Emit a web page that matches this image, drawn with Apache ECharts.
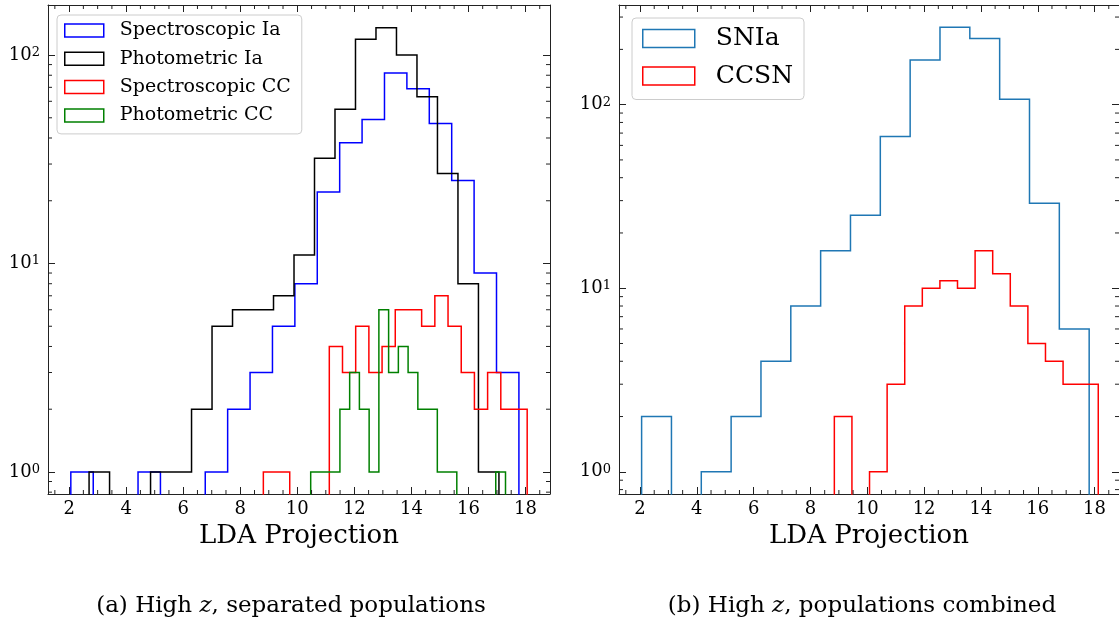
<!DOCTYPE html>
<html>
<head>
<meta charset="utf-8">
<title>LDA projection histograms, high z</title>
<script src="https://cdn.jsdelivr.net/npm/echarts@6/dist/echarts.min.js"></script>
<style>
  html, body { margin: 0; padding: 0; background: #fff; }
  #chart { width: 1119px; height: 627px; }
</style>
</head>
<body>
<div id="chart"></div>
<script>
// (a) separated populations: [first bin edge, last bin edge] and counts per bin
const specIaRange = [2.06, 17.77];
const specIaCounts = [1, 0, 0, 1, 0, 0, 1, 2, 3, 5, 8, 22, 38, 49, 82, 69, 47, 25, 9, 3];
const photIaRange = [2.70, 17.07];
const photIaCounts = [1, 0, 0, 1, 1, 2, 5, 6, 6, 7, 11, 32, 55, 119, 135, 100, 63, 27, 8, 1];
const specCCRange = [8.81, 18.06];
const specCCCounts = [1, 1, 0, 0, 0, 4, 3, 5, 3, 4, 6, 6, 5, 7, 5, 3, 2, 3, 2, 2];
const photCCRange = [10.47, 17.30];
const photCCCounts = [1, 1, 1, 2, 3, 2, 1, 6, 3, 4, 3, 2, 2, 1, 1, 0, 0, 0, 0, 1];

// (b) populations combined
const snIaRange = [2.056, 17.81];
const snIaCounts = [2, 0, 1, 2, 4, 8, 16, 25, 67, 175, 264, 229, 107, 29, 6];
const ccsnRange = [8.84, 18.13];
const ccsnCounts = [2, 0, 1, 3, 8, 10, 11, 10, 16, 12, 8, 5, 4, 3, 3];

// axes
const xRange = [1.26, 18.86];
const yRangeA = [0.784, 173.8];
const yRangeB = [0.757, 349];
const xMajorTicks = [2, 4, 6, 8, 10, 12, 14, 16, 18];
const xMinorTicks = [1.5, 2.5, 3, 3.5, 4.5, 5, 5.5, 6.5, 7, 7.5, 8.5, 9, 9.5, 10.5, 11, 11.5,
                     12.5, 13, 13.5, 14.5, 15, 15.5, 16.5, 17, 17.5, 18.5];
const yMinorTicksA = [0.8, 0.9, 2, 3, 4, 5, 6, 7, 8, 9, 20, 30, 40, 50, 60, 70, 80, 90];
const yMinorTicksB = [0.8, 0.9, 2, 3, 4, 5, 6, 7, 8, 9, 20, 30, 40, 50, 60, 70, 80, 90, 200, 300];

const SERIF = 'DejaVu Serif';
const AXIS_COLOR = '#222';
const FLOOR = 0.01; // empty bins drop below the log axis

// outline of a step histogram
function stepLine(range, counts) {
    const w = (range[1] - range[0]) / counts.length;
    const pts = [[range[0], FLOOR]];
    counts.forEach((c, i) => {
        const y = c > 0 ? c : FLOOR;
        pts.push([range[0] + i * w, y], [range[0] + (i + 1) * w, y]);
    });
    pts.push([range[1], FLOOR]);
    return pts;
}

function histSeries(name, color, range, counts, gi) {
    return {
        name: name,
        type: 'line',
        xAxisIndex: gi * 2,
        yAxisIndex: gi * 2,
        data: stepLine(range, counts),
        symbol: 'none',
        showSymbol: false,
        clip: true,
        lineStyle: { color: color, width: 1.5, join: 'miter' },
        itemStyle: { color: color },
        emphasis: { disabled: true },
        animation: false
    };
}

// minor ticks on all four sides
function minorTickSeries(gi, xs, ys) {
    const data = xs.map(v => [v, 1, 0]).concat(ys.map(v => [10, v, 1]));
    return {
        type: 'custom',
        xAxisIndex: gi * 2,
        yAxisIndex: gi * 2,
        silent: true,
        clip: false,
        z: 10,
        animation: false,
        data: data,
        renderItem: function (params, api) {
            const cs = params.coordSys;
            const p = api.coord([api.value(0), api.value(1)]);
            const st = { stroke: AXIS_COLOR, lineWidth: 1 };
            const len = 4;
            if (api.value(2) === 0) {
                const b = cs.y + cs.height, t = cs.y;
                return { type: 'group', children: [
                    { type: 'line', shape: { x1: p[0], y1: b, x2: p[0], y2: b - len }, style: st },
                    { type: 'line', shape: { x1: p[0], y1: t, x2: p[0], y2: t + len }, style: st }
                ] };
            }
            const l = cs.x, r = cs.x + cs.width;
            return { type: 'group', children: [
                { type: 'line', shape: { x1: l, y1: p[1], x2: l + len, y2: p[1] }, style: st },
                { type: 'line', shape: { x1: r, y1: p[1], x2: r - len, y2: p[1] }, style: st }
            ] };
        }
    };
}

const axisLine = { show: true, onZero: false, lineStyle: { color: AXIS_COLOR, width: 1 } };
const majorTick = { show: true, inside: true, length: 7, lineStyle: { color: AXIS_COLOR, width: 1 } };

function xAxes(gi) {
    return [
        {
            type: 'value', gridIndex: gi, position: 'bottom',
            min: xRange[0], max: xRange[1],
            name: 'LDA Projection', nameLocation: 'middle', nameGap: 29,
            nameTextStyle: { fontFamily: SERIF, fontSize: 26, color: '#000' },
            axisLine: axisLine,
            axisTick: Object.assign({ customValues: xMajorTicks }, majorTick),
            axisLabel: { customValues: xMajorTicks, fontFamily: SERIF, fontSize: 18, color: '#000', margin: 6 },
            splitLine: { show: false }
        },
        {
            type: 'value', gridIndex: gi, position: 'top',
            min: xRange[0], max: xRange[1],
            axisLine: axisLine,
            axisTick: Object.assign({ customValues: xMajorTicks }, majorTick),
            axisLabel: { show: false },
            splitLine: { show: false }
        }
    ];
}

function powLabel(v) {
    const e = Math.log10(v);
    if (Math.abs(e - Math.round(e)) > 1e-6) return '';
    return '10{s|' + Math.round(e) + '}';
}

function yAxes(gi, range) {
    return [
        {
            type: 'log', gridIndex: gi, position: 'left', logBase: 10,
            min: range[0], max: range[1],
            axisLine: axisLine,
            axisTick: majorTick,
            axisLabel: {
                formatter: powLabel, showMinLabel: false, showMaxLabel: false,
                fontFamily: SERIF, fontSize: 18, color: '#000', margin: 8,
                rich: { s: { fontFamily: SERIF, fontSize: 13, color: '#000', verticalAlign: 'top' } }
            },
            splitLine: { show: false }
        },
        {
            type: 'log', gridIndex: gi, position: 'right', logBase: 10,
            min: range[0], max: range[1],
            axisLine: axisLine,
            axisTick: majorTick,
            axisLabel: { show: false },
            splitLine: { show: false }
        }
    ];
}

function legendItem(name, color, bw) {
    return { name: name, icon: 'rect',
             itemStyle: { color: 'rgba(0,0,0,0)', borderColor: color, borderWidth: bw } };
}

const legendFrame = {
    orient: 'vertical',
    backgroundColor: 'rgba(255,255,255,0.8)',
    borderColor: '#cccccc',
    borderWidth: 1,
    borderRadius: 4,
    selectedMode: false
};

const chart = echarts.init(document.getElementById('chart'));

const option = {
    animation: false,
    grid: [
        { left: 48, top: 5, width: 502, height: 489 },
        { left: 619, top: 5, width: 502, height: 489 }
    ],
    xAxis: xAxes(0).concat(xAxes(1)),
    yAxis: yAxes(0, yRangeA).concat(yAxes(1, yRangeB)),
    legend: [
        Object.assign({
            left: 57, top: 15,
            padding: [6, 11, 9, 7],
            itemWidth: 39, itemHeight: 13, itemGap: 9.3,
            textStyle: { fontFamily: SERIF, fontSize: 19, color: '#000', padding: [0, 0, 0, 11] },
            data: [
                legendItem('Spectroscopic Ia', '#0000ff', 1.5),
                legendItem('Photometric Ia', '#000000', 1.5),
                legendItem('Spectroscopic CC', '#ff0000', 1.5),
                legendItem('Photometric CC', '#008000', 1.5)
            ]
        }, legendFrame),
        Object.assign({
            left: 632, top: 18,
            padding: [8, 11, 11, 10],
            itemWidth: 52, itemHeight: 18, itemGap: 12.5,
            textStyle: { fontFamily: SERIF, fontSize: 25, color: '#000', padding: [0, 0, 0, 16] },
            data: [
                legendItem('SNIa', '#1f77b4', 1.5),
                legendItem('CCSN', '#ff0000', 1.5)
            ]
        }, legendFrame)
    ],
    series: [
        histSeries('Spectroscopic Ia', '#0000ff', specIaRange, specIaCounts, 0),
        histSeries('Photometric Ia', '#000000', photIaRange, photIaCounts, 0),
        histSeries('Spectroscopic CC', '#ff0000', specCCRange, specCCCounts, 0),
        histSeries('Photometric CC', '#008000', photCCRange, photCCCounts, 0),
        minorTickSeries(0, xMinorTicks, yMinorTicksA),
        histSeries('SNIa', '#1f77b4', snIaRange, snIaCounts, 1),
        histSeries('CCSN', '#ff0000', ccsnRange, ccsnCounts, 1),
        minorTickSeries(1, xMinorTicks, yMinorTicksB)
    ],
    graphic: [
        {
            type: 'text', x: 291, y: 606,
            style: {
                text: '(a) High {i|z}, separated populations',
                align: 'center', verticalAlign: 'middle',
                fontFamily: SERIF, fontSize: 23, fill: '#000',
                rich: { i: { fontFamily: SERIF, fontSize: 23, fontStyle: 'italic' } }
            }
        },
        {
            type: 'text', x: 862, y: 606,
            style: {
                text: '(b) High {i|z}, populations combined',
                align: 'center', verticalAlign: 'middle',
                fontFamily: SERIF, fontSize: 23, fill: '#000',
                rich: { i: { fontFamily: SERIF, fontSize: 23, fontStyle: 'italic' } }
            }
        }
    ]
};

chart.setOption(option);
window.addEventListener('resize', () => chart.resize());
</script>
</body>
</html>
